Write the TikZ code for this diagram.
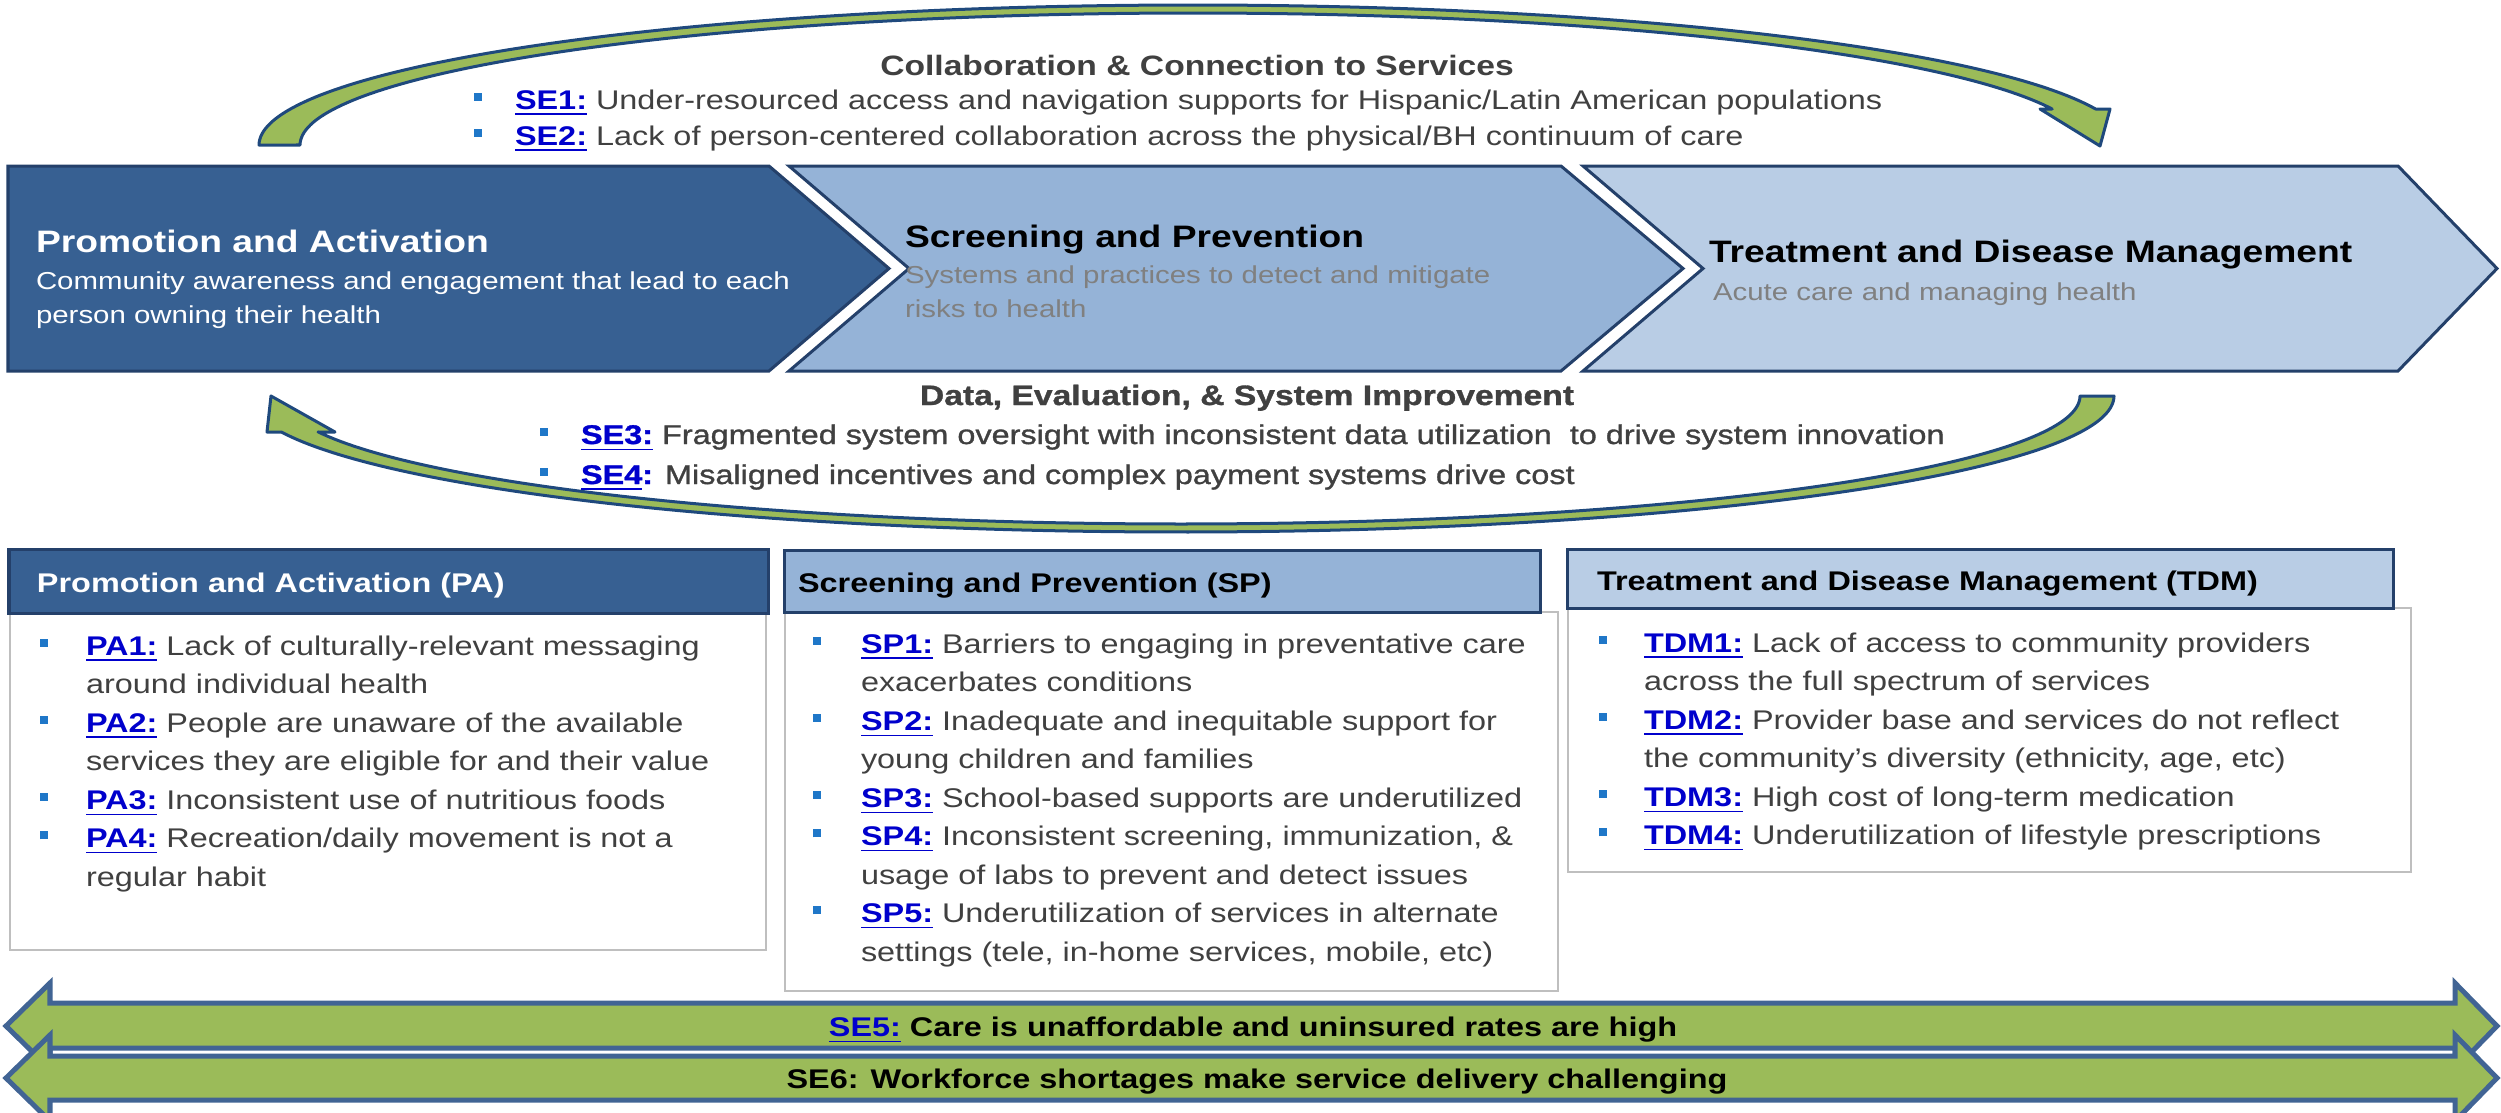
\documentclass[tikz,border=0pt]{standalone}
\usepackage{fontspec}
\setmainfont{Liberation Sans}[FakeStretch=1.2]
\newfontfamily\heavy{Liberation Sans}[FakeStretch=1.2, FakeBold=1.2]

\definecolor{pablue}{RGB}{55,96,146}
\definecolor{spblue}{RGB}{149,179,215}
\definecolor{tdmblue}{RGB}{185,205,229}
\definecolor{navy}{RGB}{36,64,106}
\definecolor{arcblue}{RGB}{31,73,125}
\definecolor{leafgreen}{RGB}{155,187,89}
\definecolor{steel}{RGB}{65,100,148}
\definecolor{ink}{RGB}{64,64,64}
\definecolor{mute}{RGB}{128,128,128}
\definecolor{linkblue}{RGB}{0,0,204}
\definecolor{dotblue}{RGB}{31,119,200}
\definecolor{frame}{RGB}{191,191,191}

% font sizes
\newcommand{\fsTitle}{\fontsize{7.97pt}{9.5pt}\selectfont\bfseries}
\newcommand{\fsLine}{\fontsize{7.68pt}{9.5pt}\selectfont}
\newcommand{\fsChev}{\fontsize{8.82pt}{10pt}\selectfont\bfseries}
\newcommand{\fsSub}{\fontsize{6.97pt}{9.67pt}\selectfont}
\newcommand{\fsBox}{\fontsize{7.68pt}{10.95pt}\selectfont}

% underlined blue item label
\newcommand{\lnk}[1]{\textbf{\textcolor{linkblue}{\underline{#1}}}}
% small square bullet hung to the left of the text
\newcommand{\sqbul}[1]{\llap{\textcolor{dotblue}{\rule[2.3pt]{2.3pt}{2.3pt}}\hspace{#1}}}
\newcommand{\bitem}[1]{\par\leavevmode\sqbul{#1}}
% top-aligned block whose baseline is its first line
\newcommand{\stack}[1]{\vtop{\hsize=9cm\parindent=0pt\parskip=0pt\raggedright #1}}

\begin{document}
\begin{tikzpicture}[x=0.01cm,y=-0.01cm,
  txt/.style={inner sep=0pt, outer sep=0pt, anchor=base west},
  band/.style={fill=leafgreen, draw=arcblue, line width=0.3mm, line join=round},
  chevron/.style={draw=navy, line width=0.3mm, line join=miter},
  header/.style={draw=navy, line width=0.3mm},
  body/.style={draw=frame, fill=white, line width=0.15mm},
  barrow/.style={fill=leafgreen, draw=steel, line width=0.5mm, line join=miter}]

\useasboundingbox (0,0) rectangle (2501,1112);

% curved arrow over the chevrons
\filldraw[band]
  plot[domain=180:14.9, samples=150] ({1193+934*cos(\x)},{145-140*sin(\x)})
  -- (2110,109) -- (2100,146) -- (2040,109) -- (2052,109)
  -- plot[domain=15.8:180, samples=150] ({1193+893*cos(\x)},{145-132*sin(\x)})
  -- cycle;

% curved arrow under the chevrons
\filldraw[band]
  plot[domain=0:164.65, samples=150] ({1181+933*cos(\x)},{396+136*sin(\x)})
  -- (267,432) -- (271,396) -- (335,432) -- (318,432)
  -- plot[domain=163.67:0, samples=150] ({1181+899*cos(\x)},{396+128*sin(\x)})
  -- cycle;

% chevrons
\filldraw[chevron, fill=pablue]
  (8,166) -- (769,166) -- (889,268.5) -- (769,371) -- (8,371) -- cycle;
\filldraw[chevron, fill=spblue]
  (789,166) -- (1561,166) -- (1683,268.5) -- (1561,371) -- (789,371) -- (909,268.5) -- cycle;
\filldraw[chevron, fill=tdmblue]
  (1583,166) -- (2398,166) -- (2497,268.5) -- (2398,371) -- (1583,371) -- (1703,268.5) -- cycle;

% top block of system elements
\node[txt, anchor=base, text=ink, font=\fsTitle] (collab) at (1197,75)
  {Collaboration \& Connection to Services};
\node[txt, text=ink, font=\fsLine] (se1) at (515,109)
  {\sqbul{9.4pt}\lnk{SE1:} Under-resourced access and navigation supports for Hispanic/Latin American populations};
\node[txt, text=ink, font=\fsLine] (se2) at (515,145)
  {\sqbul{9.4pt}\lnk{SE2:} Lack of person-centered collaboration across the physical/BH continuum of care};

% chevron texts
\node[txt, text=white, font=\fsChev] (pa-title) at (36,252) {Promotion and Activation};
\node[txt, text=white] (pa-sub) at (36,289) {\fsSub\stack{Community awareness and engagement that lead to each\newline person owning their health}};
\node[txt, text=black, font=\fsChev] (sp-title) at (905,247) {Screening and Prevention};
\node[txt, text=mute] (sp-sub) at (905,283) {\fsSub\stack{Systems and practices to detect and mitigate\newline risks to health}};
\node[txt, text=black, font=\fsChev] (tdm-title) at (1709,262) {Treatment and Disease Management};
\node[txt, text=mute] (tdm-sub) at (1713,300) {\fsSub\stack{Acute care and managing health}};

% lower block of system elements
\node[txt, anchor=base, text=ink, font=\fsTitle\heavy] (data) at (1247,405)
  {Data, Evaluation, \& System Improvement};
\node[txt, text=ink, font=\fsLine\heavy] (se3) at (581,444)
  {\sqbul{9.4pt}\lnk{SE3:} Fragmented system oversight with inconsistent data utilization\ \ to drive system innovation};
\node[txt, text=ink, font=\fsLine\heavy] (se4) at (581,484)
  {\sqbul{9.4pt}\lnk{SE4}\textbf{\textcolor{linkblue}{:}} Misaligned incentives and complex payment systems drive cost};

% Promotion and Activation box
\filldraw[body] (10,613) rectangle (766,950);
\filldraw[header, fill=pablue] (9,549) rectangle (768,613);
\node[txt, text=white, font=\fsLine\bfseries] (pa-head) at (37,592) {Promotion and Activation (PA)};
\node[txt, text=ink] (pa-list) at (86,655) {\fsBox\stack{%
  \bitem{10.8pt}\lnk{PA1:} Lack of culturally-relevant messaging\newline around individual health
  \bitem{10.8pt}\lnk{PA2:} People are unaware of the available\newline services they are eligible for and their value
  \bitem{10.8pt}\lnk{PA3:} Inconsistent use of nutritious foods
  \bitem{10.8pt}\lnk{PA4:} Recreation/daily movement is not a\newline regular habit}};

% Screening and Prevention box
\filldraw[body] (785,612) rectangle (1558,991);
\filldraw[header, fill=spblue] (784,550) rectangle (1540,612);
\node[txt, text=black, font=\fsLine\bfseries] (sp-head) at (798,592) {Screening and Prevention (SP)};
\node[txt, text=ink] (sp-list) at (861,653) {\fsBox\stack{%
  \bitem{11.4pt}\lnk{SP1:} Barriers to engaging in preventative care\newline exacerbates conditions
  \bitem{11.4pt}\lnk{SP2:} Inadequate and inequitable support for\newline young children and families
  \bitem{11.4pt}\lnk{SP3:} School-based supports are underutilized
  \bitem{11.4pt}\lnk{SP4:} Inconsistent screening, immunization, \&\newline usage of labs to prevent and detect issues
  \bitem{11.4pt}\lnk{SP5:} Underutilization of services in alternate\newline settings (tele, in-home services, mobile, etc)}};

% Treatment and Disease Management box
\filldraw[body] (1568,608) rectangle (2411,872);
\filldraw[header, fill=tdmblue] (1567,549) rectangle (2393,608);
\node[txt, text=black, font=\fsLine\bfseries] (tdm-head) at (1597,590) {Treatment and Disease Management (TDM)};
\node[txt, text=ink] (tdm-list) at (1644,652) {\fsBox\stack{%
  \bitem{10.5pt}\lnk{TDM1:} Lack of access to community providers\newline across the full spectrum of services
  \bitem{10.5pt}\lnk{TDM2:} Provider base and services do not reflect\newline the community’s diversity (ethnicity, age, etc)
  \bitem{10.5pt}\lnk{TDM3:} High cost of long-term medication
  \bitem{10.5pt}\lnk{TDM4:} Underutilization of lifestyle prescriptions}};

% double-headed arrows along the bottom
\filldraw[barrow] (6,1026) -- (50,983) -- (50,1003) -- (2455,1003) -- (2455,983) -- (2497,1026)
  -- (2455,1069) -- (2455,1048) -- (50,1048) -- (50,1069) -- cycle;
\filldraw[barrow] (6,1078) -- (50,1035) -- (50,1056) -- (2455,1056) -- (2455,1035) -- (2497,1078)
  -- (2455,1121) -- (2455,1100) -- (50,1100) -- (50,1121) -- cycle;
\node[txt, anchor=base, text=black, font=\fsLine\bfseries] (se5) at (1253,1036)
  {\lnk{SE5:} Care is unaffordable and uninsured rates are high};
\node[txt, anchor=base, text=black, font=\fsLine\bfseries] (se6) at (1257,1088)
  {SE6: Workforce shortages make service delivery challenging};

\end{tikzpicture}
\end{document}
